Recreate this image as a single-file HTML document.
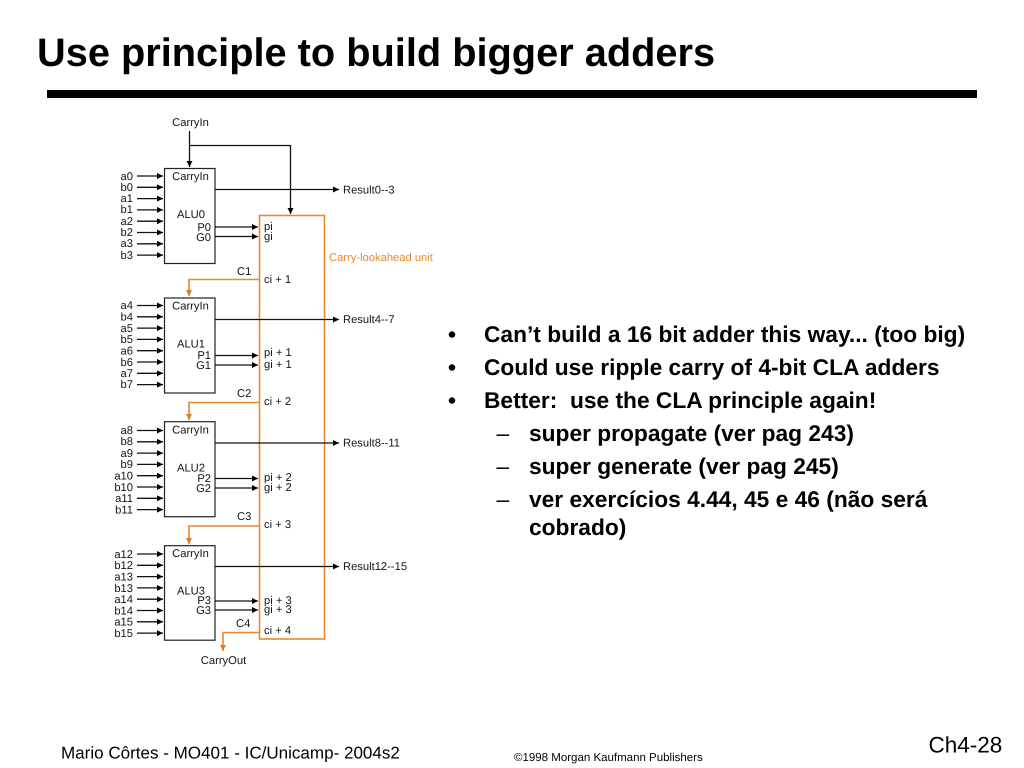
<!DOCTYPE html>
<html>
<head>
<meta charset="utf-8">
<style>
html,body{margin:0;padding:0;background:#fff}
svg{display:block}
text{font-family:"Liberation Sans",sans-serif;fill:#000;text-rendering:geometricPrecision}
.l{font-size:11.2px;fill:#151515}
.r{text-anchor:end}
.m{text-anchor:middle}
.t{font-size:22.75px;font-weight:bold}
.d{font-size:22.8px}
</style>
</head>
<body>
<svg width="1024" height="768" viewBox="0 0 1024 768" xmlns="http://www.w3.org/2000/svg">
<defs>
<marker id="k" markerUnits="userSpaceOnUse" markerWidth="7" markerHeight="7" refX="6" refY="3" orient="auto"><path d="M0 0L6 3L0 6z" fill="#000"/></marker>
<marker id="o" markerUnits="userSpaceOnUse" markerWidth="7" markerHeight="7" refX="6" refY="3" orient="auto"><path d="M0 0L6 3L0 6z" fill="#e07b20"/></marker>
</defs>
<text x="37" y="66" style="font-size:39.750px;font-weight:bold">Use principle to build bigger adders</text>
<rect x="47" y="90" width="930" height="8" fill="#000"/>

<g fill="none" stroke="#e8892f" stroke-width="1.6">
<rect x="259.5" y="215.5" width="65" height="423.5"/>
<path d="M259 279.5H189V296" marker-end="url(#o)"/>
<path d="M259 402.5H189V420" marker-end="url(#o)"/>
<path d="M259 526H189V544" marker-end="url(#o)"/>
<path d="M259 632.5H223V651" marker-end="url(#o)"/>
</g>
<g fill="#fff" stroke="#222" stroke-width="1.2">
<rect x="164.5" y="168.5" width="50.5" height="95"/>
<rect x="164.5" y="298" width="50.5" height="95"/>
<rect x="164.5" y="421.7" width="50.5" height="95"/>
<rect x="164.5" y="545.7" width="50.5" height="94.5"/>
</g>
<g fill="none" stroke="#111" stroke-width="1.3">
<path d="M189.500 131V167" marker-end="url(#k)"/>
<path d="M190 145.500H290.500V214" marker-end="url(#k)"/>
<path d="M215 189.500H339" marker-end="url(#k)"/>
<path d="M215 319.500H339" marker-end="url(#k)"/>
<path d="M215 443H339" marker-end="url(#k)"/>
<path d="M215 566.500H339" marker-end="url(#k)"/>
<path d="M215 227H258" marker-end="url(#k)"/>
<path d="M215 236.500H258" marker-end="url(#k)"/>
<path d="M215 355.500H258" marker-end="url(#k)"/>
<path d="M215 365H258" marker-end="url(#k)"/>
<path d="M215 478.500H258" marker-end="url(#k)"/>
<path d="M215 488H258" marker-end="url(#k)"/>
<path d="M215 601H258" marker-end="url(#k)"/>
<path d="M215 610H258" marker-end="url(#k)"/>
<path d="M137 176H163" marker-end="url(#k)"/><path d="M137 187.300H163" marker-end="url(#k)"/><path d="M137 198.600H163" marker-end="url(#k)"/><path d="M137 209.900H163" marker-end="url(#k)"/><path d="M137 221.200H163" marker-end="url(#k)"/><path d="M137 232.500H163" marker-end="url(#k)"/><path d="M137 243.800H163" marker-end="url(#k)"/><path d="M137 255.100H163" marker-end="url(#k)"/>
<path d="M137 305.500H163" marker-end="url(#k)"/><path d="M137 316.800H163" marker-end="url(#k)"/><path d="M137 328.100H163" marker-end="url(#k)"/><path d="M137 339.400H163" marker-end="url(#k)"/><path d="M137 350.700H163" marker-end="url(#k)"/><path d="M137 362H163" marker-end="url(#k)"/><path d="M137 373.300H163" marker-end="url(#k)"/><path d="M137 384.600H163" marker-end="url(#k)"/>
<path d="M137 430.500H163" marker-end="url(#k)"/><path d="M137 441.800H163" marker-end="url(#k)"/><path d="M137 453.100H163" marker-end="url(#k)"/><path d="M137 464.400H163" marker-end="url(#k)"/><path d="M137 475.700H163" marker-end="url(#k)"/><path d="M137 487H163" marker-end="url(#k)"/><path d="M137 498.300H163" marker-end="url(#k)"/><path d="M137 509.600H163" marker-end="url(#k)"/>
<path d="M137 554H163" marker-end="url(#k)"/><path d="M137 565.300H163" marker-end="url(#k)"/><path d="M137 576.600H163" marker-end="url(#k)"/><path d="M137 587.900H163" marker-end="url(#k)"/><path d="M137 599.200H163" marker-end="url(#k)"/><path d="M137 610.500H163" marker-end="url(#k)"/><path d="M137 621.800H163" marker-end="url(#k)"/><path d="M137 633.100H163" marker-end="url(#k)"/>
</g>

<g class="l">
<text class="l m" x="190.500" y="126">CarryIn</text>
<text class="l m" x="190.500" y="180">CarryIn</text>
<text class="l m" x="190.500" y="309.500">CarryIn</text>
<text class="l m" x="190.500" y="433.500">CarryIn</text>
<text class="l m" x="190.500" y="557">CarryIn</text>
<text class="l" x="177" y="218">ALU0</text>
<text class="l" x="177" y="347.500">ALU1</text>
<text class="l" x="177" y="471.500">ALU2</text>
<text class="l" x="177" y="594.500">ALU3</text>
<text class="l r" x="211" y="231">P0</text><text class="l r" x="211" y="241">G0</text>
<text class="l r" x="211" y="359">P1</text><text class="l r" x="211" y="369">G1</text>
<text class="l r" x="211" y="482">P2</text><text class="l r" x="211" y="492">G2</text>
<text class="l r" x="211" y="604">P3</text><text class="l r" x="211" y="614">G3</text>
<text class="l" x="264" y="230">pi</text><text class="l" x="264" y="240">gi</text>
<text class="l" x="264" y="283">ci + 1</text>
<text class="l" x="264" y="356">pi + 1</text><text class="l" x="264" y="368">gi + 1</text>
<text class="l" x="264" y="405">ci + 2</text>
<text class="l" x="264" y="481">pi + 2</text><text class="l" x="264" y="491">gi + 2</text>
<text class="l" x="264" y="528">ci + 3</text>
<text class="l" x="264" y="604">pi + 3</text><text class="l" x="264" y="613">gi + 3</text>
<text class="l" x="264" y="634">ci + 4</text>
<text class="l" x="237" y="275">C1</text><text class="l" x="237" y="397">C2</text><text class="l" x="237" y="520">C3</text><text class="l" x="236" y="627">C4</text>
<text class="l" x="343" y="193.500">Result0--3</text>
<text class="l" x="343" y="323">Result4--7</text>
<text class="l" x="343" y="446.500">Result8--11</text>
<text class="l" x="343" y="570">Result12--15</text>
<text class="l" x="329" y="261" style="fill:#e8892f">Carry-lookahead unit</text>
<text class="l m" x="223.500" y="664">CarryOut</text>
<text class="l r" x="133" y="180">a0</text><text class="l r" x="133" y="191">b0</text><text class="l r" x="133" y="202">a1</text><text class="l r" x="133" y="213">b1</text><text class="l r" x="133" y="225">a2</text><text class="l r" x="133" y="236">b2</text><text class="l r" x="133" y="247">a3</text><text class="l r" x="133" y="259">b3</text>
<text class="l r" x="133" y="309">a4</text><text class="l r" x="133" y="320.500">b4</text><text class="l r" x="133" y="332">a5</text><text class="l r" x="133" y="343">b5</text><text class="l r" x="133" y="354.500">a6</text><text class="l r" x="133" y="366">b6</text><text class="l r" x="133" y="377">a7</text><text class="l r" x="133" y="388">b7</text>
<text class="l r" x="133" y="434">a8</text><text class="l r" x="133" y="445">b8</text><text class="l r" x="133" y="457">a9</text><text class="l r" x="133" y="468">b9</text><text class="l r" x="133" y="479.500">a10</text><text class="l r" x="133" y="491">b10</text><text class="l r" x="133" y="502">a11</text><text class="l r" x="133" y="513.500">b11</text>
<text class="l r" x="133" y="558">a12</text><text class="l r" x="133" y="569">b12</text><text class="l r" x="133" y="580.500">a13</text><text class="l r" x="133" y="592">b13</text><text class="l r" x="133" y="603">a14</text><text class="l r" x="133" y="614.500">b14</text><text class="l r" x="133" y="625.500">a15</text><text class="l r" x="133" y="637">b15</text>
</g>

<text x="448" y="342" class="t">•</text><text x="484" y="342" class="t">Can’t build a 16 bit adder this way... (too big)</text>
<text x="448" y="375" class="t">•</text><text x="484" y="375" class="t">Could use ripple carry of 4-bit CLA adders</text>
<text x="448" y="408" class="t">•</text><text x="484" y="408" xml:space="preserve" class="t">Better:  use the CLA principle again!</text>
<text x="496.500" y="441" class="d">–</text><text x="529" y="441" class="t">super propagate (ver pag 243)</text>
<text x="496.500" y="474" class="d">–</text><text x="529" y="474" class="t">super generate (ver pag 245)</text>
<text x="496.500" y="507" class="d">–</text><text x="529" y="507" class="t">ver exercícios 4.44, 45 e 46 (não será</text>
<text x="529" y="535" class="t">cobrado)</text>

<text x="61" y="758.500" style="font-size:17.050px">Mario Côrtes - MO401 - IC/Unicamp- 2004s2</text>
<text x="514" y="761" style="font-size:11.500px">©1998 Morgan Kaufmann Publishers</text>
<text x="928.500" y="752.500" style="font-size:22.500px">Ch4-28</text>
</svg>
</body>
</html>
